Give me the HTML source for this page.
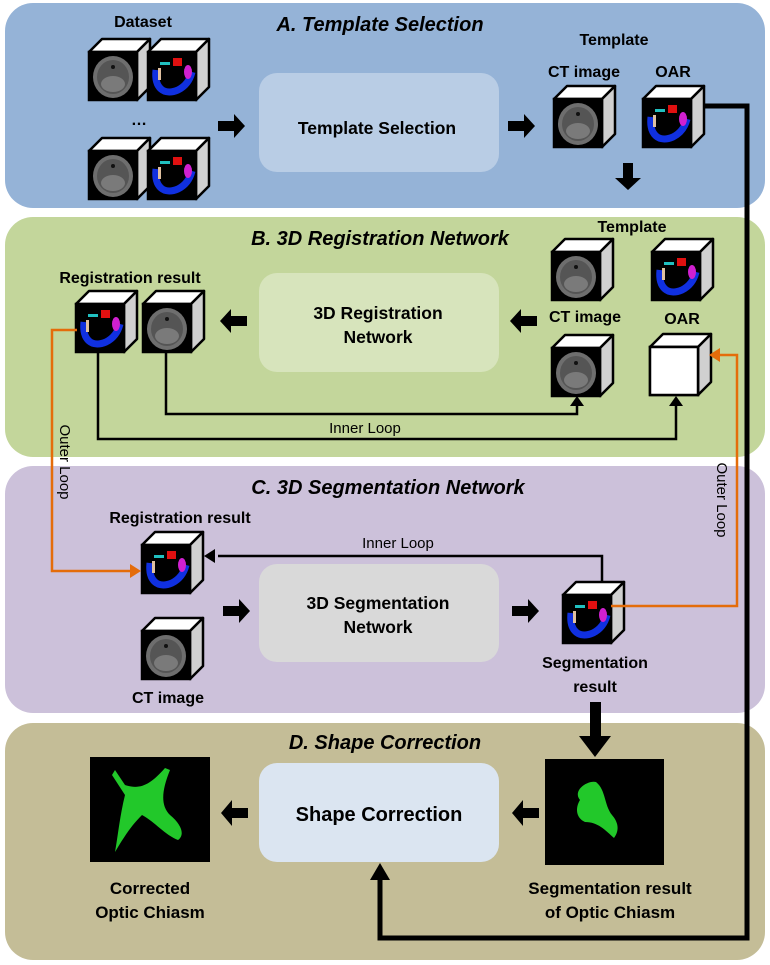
<!DOCTYPE html>
<html><head><meta charset="utf-8"><style>
html,body{margin:0;padding:0;background:#fff}
svg{display:block}
text{font-family:"Liberation Sans",sans-serif}
.b{font-weight:bold;font-size:16px}
.bb{font-weight:bold;font-size:17.5px}
.bd{font-weight:bold;font-size:17px}
.t{font-weight:bold;font-style:italic;font-size:20px}
.n{font-size:15px}
</style></head><body>
<svg width="770" height="965" viewBox="0 0 770 965" xmlns="http://www.w3.org/2000/svg">
<defs>
<g id="cube">
<polygon points="0,0 13,-13 61,-13 48,0" fill="#fff" stroke="#000" stroke-width="2.5" stroke-linejoin="round"/>
<polygon points="48,0 61,-13 61,35 48,48" fill="#d0d0d0" stroke="#000" stroke-width="2.5" stroke-linejoin="round"/>
<rect x="0" y="0" width="48" height="48" fill="#000" stroke="#000" stroke-width="2.5"/>
</g>
<g id="ct">
<ellipse cx="24" cy="25" rx="20" ry="21" fill="#6e6e6e"/>
<ellipse cx="24" cy="25" rx="16" ry="17" fill="#555"/>
<ellipse cx="24" cy="32" rx="12" ry="8" fill="#7a7a7a"/>
<circle cx="24" cy="15" r="2" fill="#111"/>
</g>
<g id="oar">
<path d="M8,18 C6,36 16,44 30,38 C38,34 42,28 44,20" stroke="#1030e0" stroke-width="7" fill="none"/>
<rect x="25" y="6" width="9" height="8" fill="#e01010"/>
<rect x="12" y="10" width="10" height="3" fill="#20c0c0"/>
<ellipse cx="40" cy="20" rx="4" ry="7" fill="#d020d0"/>
<rect x="10" y="16" width="3" height="12" fill="#e0c0a0"/>
</g>
</defs>

<rect x="5" y="3" width="760" height="205" rx="28" fill="#95b3d7"/>
<rect x="5" y="217" width="760" height="240" rx="28" fill="#c3d69b"/>
<rect x="5" y="466" width="760" height="247" rx="28" fill="#ccc1da"/>
<rect x="5" y="723" width="760" height="237" rx="28" fill="#c4bd97"/>

<rect x="259" y="73" width="240" height="99" rx="18" fill="#b9cde5"/>
<rect x="259" y="273" width="240" height="99" rx="18" fill="#d7e4bc"/>
<rect x="259" y="564" width="240" height="98" rx="18" fill="#d9d9d9"/>
<rect x="259" y="763" width="240" height="99" rx="18" fill="#dbe5f1"/>

<text class="t" x="380" y="31" text-anchor="middle">A. Template Selection</text>
<text class="t" x="380" y="245" text-anchor="middle">B. 3D Registration Network</text>
<text class="t" x="388" y="494" text-anchor="middle">C. 3D Segmentation Network</text>
<text class="t" x="385" y="749" text-anchor="middle">D. Shape Correction</text>

<text class="bb" x="377" y="134" text-anchor="middle">Template Selection</text>
<text class="bb" x="378" y="319" text-anchor="middle">3D Registration</text>
<text class="bb" x="378" y="343" text-anchor="middle">Network</text>
<text class="bb" x="378" y="609" text-anchor="middle">3D Segmentation</text>
<text class="bb" x="378" y="633" text-anchor="middle">Network</text>
<text x="379" y="821" text-anchor="middle" style="font-weight:bold;font-size:20px">Shape Correction</text>

<text class="b" x="143" y="27" text-anchor="middle">Dataset</text>
<use href="#cube" x="89" y="52"/><use href="#ct" x="89" y="52"/>
<use href="#cube" x="148" y="52"/><use href="#oar" x="148" y="52"/>
<text class="b" x="139" y="125" text-anchor="middle">…</text>
<use href="#cube" x="89" y="151"/><use href="#ct" x="89" y="151"/>
<use href="#cube" x="148" y="151"/><use href="#oar" x="148" y="151"/>
<text class="b" x="614" y="45" text-anchor="middle">Template</text>
<text class="b" x="584" y="77" text-anchor="middle">CT image</text>
<text class="b" x="673" y="77" text-anchor="middle">OAR</text>
<use href="#cube" x="554" y="99"/><use href="#ct" x="554" y="99"/>
<use href="#cube" x="643" y="99"/><use href="#oar" x="643" y="99"/>

<text class="b" x="632" y="232" text-anchor="middle">Template</text>
<use href="#cube" x="552" y="252"/><use href="#ct" x="552" y="252"/>
<use href="#cube" x="652" y="252"/><use href="#oar" x="652" y="252"/>
<text class="b" x="585" y="322" text-anchor="middle">CT image</text>
<text class="b" x="682" y="324" text-anchor="middle">OAR</text>
<use href="#cube" x="552" y="348"/><use href="#ct" x="552" y="348"/>
<use href="#cube" x="650" y="347"/><rect x="650" y="347" width="48" height="48" fill="#fff" stroke="#000" stroke-width="2.5"/>
<text class="b" x="130" y="283" text-anchor="middle">Registration result</text>
<use href="#cube" x="76" y="304"/><use href="#oar" x="76" y="304"/>
<use href="#cube" x="143" y="304"/><use href="#ct" x="143" y="304"/>

<text class="b" x="180" y="523" text-anchor="middle">Registration result</text>
<use href="#cube" x="142" y="545"/><use href="#oar" x="142" y="545"/>
<use href="#cube" x="142" y="631"/><use href="#ct" x="142" y="631"/>
<text class="b" x="168" y="703" text-anchor="middle">CT image</text>
<use href="#cube" x="563" y="595"/><use href="#oar" x="563" y="595"/>
<text class="b" x="595" y="668" text-anchor="middle">Segmentation</text>
<text class="b" x="595" y="692" text-anchor="middle">result</text>

<rect x="90" y="757" width="120" height="105" fill="#000"/>
<path d="M112,775 L125,795 C120,815 118,835 115,852 C125,835 132,825 142,815 C155,822 165,835 178,840 C185,835 182,825 170,815 C160,805 162,790 170,770 L165,768 C150,785 140,790 125,785 L115,770 Z" fill="#22c82a"/>
<rect x="545" y="759" width="119" height="106" fill="#000"/>
<path d="M580,800 C572,790 588,780 596,782 C606,790 604,805 612,815 C618,822 620,830 614,838 C605,830 598,822 585,822 C576,818 575,808 580,800 Z" fill="#22c82a"/>
<text class="bd" x="150" y="894" text-anchor="middle">Corrected</text>
<text class="bd" x="150" y="918" text-anchor="middle">Optic Chiasm</text>
<text class="bd" x="610" y="894" text-anchor="middle">Segmentation result</text>
<text class="bd" x="610" y="918" text-anchor="middle">of Optic Chiasm</text>

<g fill="#000">
<polygon points="218,121 234,121 234,114 245,126 234,138 234,131 218,131"/>
<polygon points="508,121 524,121 524,114 535,126 524,138 524,131 508,131"/>
<polygon points="623,163 633,163 633,178 641,178 628,190 615,178 623,178"/>
<polygon points="247,316 231,316 231,309 220,321 231,333 231,326 247,326"/>
<polygon points="537,316 521,316 521,309 510,321 521,333 521,326 537,326"/>
<polygon points="223,606 239,606 239,599 250,611 239,623 239,616 223,616"/>
<polygon points="512,606 528,606 528,599 539,611 528,623 528,616 512,616"/>
<polygon points="590,702 601,702 601,736 611,736 595,757 579,736 590,736"/>
<polygon points="248,808 232,808 232,800 221,813 232,826 232,818 248,818"/>
<polygon points="539,808 523,808 523,800 512,813 523,826 523,818 539,818"/>
</g>

<polyline points="704,106 747,106 747,938 380,938 380,878" fill="none" stroke="#000" stroke-width="5"/>
<polygon points="380,863 370,880 390,880" fill="#000"/>

<g fill="none" stroke="#000" stroke-width="2.5">
<polyline points="166,352 166,414 577,414 577,405"/>
<polyline points="98,352 98,439 676,439 676,405"/>
<polyline points="602,582 602,556 218,556"/>
</g>
<polygon points="577,396 570,406 584,406" fill="#000"/>
<polygon points="676,396 669,406 683,406" fill="#000"/>
<polygon points="204,556 215,549 215,563" fill="#000"/>
<text class="n" x="365" y="433" text-anchor="middle">Inner Loop</text>
<text class="n" x="398" y="548" text-anchor="middle">Inner Loop</text>

<g fill="none" stroke="#e46c0a" stroke-width="2.5">
<polyline points="77,330 52,330 52,571 130,571"/>
<polyline points="611,606 737,606 737,355 717,355"/>
</g>
<polygon points="141,571 130,564 130,578" fill="#e46c0a"/>
<polygon points="709,355 720,348 720,362" fill="#e46c0a"/>
<text class="n" transform="translate(60,462) rotate(90)" text-anchor="middle">Outer Loop</text>
<text class="n" transform="translate(717,500) rotate(90)" text-anchor="middle">Outer Loop</text>
</svg>
</body></html>
